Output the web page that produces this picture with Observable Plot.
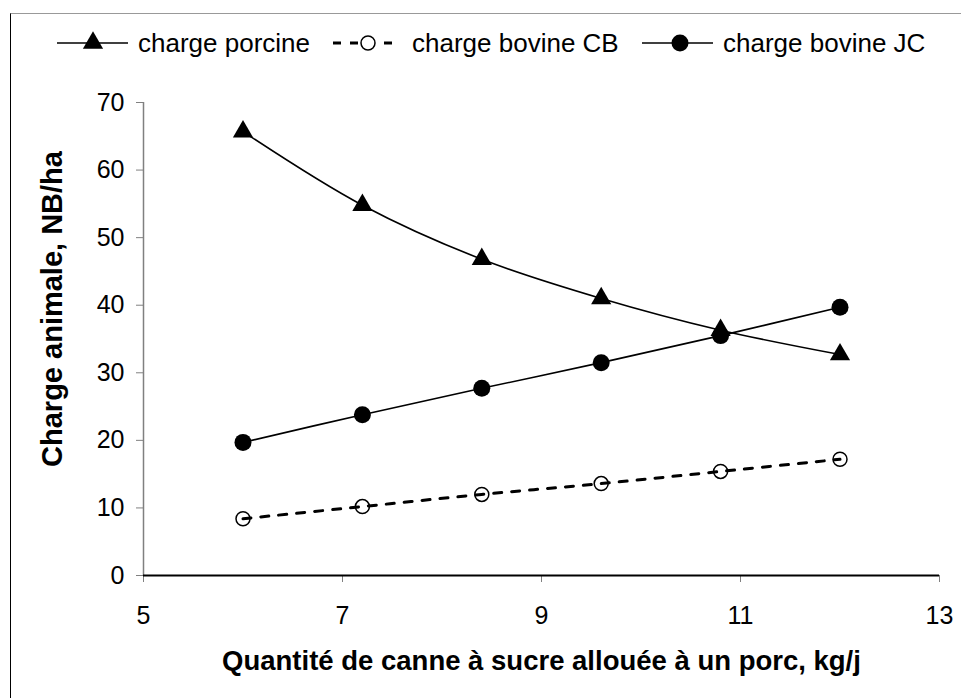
<!DOCTYPE html>
<html><head><meta charset="utf-8">
<script src="https://cdn.jsdelivr.net/npm/d3@7"></script>
<script src="https://cdn.jsdelivr.net/npm/@observablehq/plot@0.6"></script>
<style>
body{margin:0;background:#fff;}
#wrap{position:relative;width:961px;height:698px;overflow:hidden;background:#fff;font-family:"Liberation Sans",Arial,sans-serif;}
#frame{position:absolute;z-index:5;left:10px;top:13px;width:1000px;height:1000px;border-left:1px solid #000;border-top:1px solid #999;pointer-events:none;}
#legend{position:relative;height:80px;}
#legend svg, #chart svg{display:block;}
</style></head><body>
<div id="wrap"><div id="legend"></div><div id="chart"></div><div id="frame"></div></div>
<script>
const quantite = [6, 7.2, 8.4, 9.6, 10.8, 12];
const porcine  = [65.7, 54.8, 46.8, 41.0, 36.3, 32.7];
const bovineCB = [8.4, 10.2, 12.0, 13.6, 15.4, 17.2];
const bovineJC = [19.7, 23.8, 27.7, 31.5, 35.5, 39.7];
const xTicks = [5, 7, 9, 11, 13];
const yTicks = [0, 10, 20, 30, 40, 50, 60, 70];
const seriesNames = ["charge porcine", "charge bovine CB", "charge bovine JC"];
const xTitle = "Quantité de canne à sucre allouée à un porc, kg/j";
const yTitle = "Charge animale, NB/ha";

const rows = (vals, name) => quantite.map((q, i) => ({q, v: vals[i], name}));
const porcRows = rows(porcine, seriesNames[0]);
const cbRows = rows(bovineCB, seriesNames[1]);
const jcRows = rows(bovineJC, seriesNames[2]);

const FONT = "'Liberation Sans', Arial, sans-serif";

// Legend
const leg = d3.select("#legend").append("svg").attr("width", 961).attr("height", 80)
  .style("font-family", FONT);
const ly = 43;
const items = [
  {x0: 57, x1: 128, mx: 93, tx: 138, kind: "tri"},
  {x0: 333, x1: 400, mx: 368, tx: 412, kind: "open"},
  {x0: 642, x1: 713, mx: 680, tx: 723, kind: "dot"}
];
items.forEach((it, i) => {
  const g = leg.append("g");
  const ln = g.append("line").attr("x1", it.x0).attr("x2", it.x1).attr("y1", ly).attr("y2", ly)
    .attr("stroke", "#000");
  if (it.kind === "open") ln.attr("stroke-width", 3).attr("stroke-dasharray", "8,9");
  else ln.attr("stroke-width", 1.6);
  if (it.kind === "tri") {
    g.append("path").attr("d", d3.symbol(d3.symbolTriangle, 7.5 * 7.5 * Math.PI)())
      .attr("transform", `translate(${it.mx},${ly})`).attr("fill", "#000");
  } else if (it.kind === "open") {
    g.append("circle").attr("cx", it.mx).attr("cy", ly).attr("r", 7).attr("fill", "#fff")
      .attr("stroke", "#000").attr("stroke-width", 1.5);
  } else {
    g.append("circle").attr("cx", it.mx).attr("cy", ly).attr("r", 8.5).attr("fill", "#000");
  }
  g.append("text").attr("x", it.tx).attr("y", ly).attr("dy", "0.35em")
    .attr("font-size", 26).attr("fill", "#000").text(seriesNames[i]);
});

const chart = Plot.plot({
  width: 961, height: 618,
  marginLeft: 143, marginRight: 22, marginTop: 22, marginBottom: 123,
  style: {fontFamily: FONT, fontSize: "25px", color: "#000", background: "transparent", overflow: "visible"},
  x: {domain: [5, 13]},
  y: {domain: [0, 70]},
  marks: [
    Plot.axisY({ticks: yTicks, tickSize: 7, tickPadding: 12, stroke: "#808080", label: null, fontSize: 25}),
    Plot.axisX({ticks: xTicks, tickSize: 7, tickPadding: 24, stroke: "#808080", label: null, fontSize: 25}),
    Plot.ruleX([5], {stroke: "#808080", strokeWidth: 1.5}),
    Plot.ruleY([0], {stroke: "#000", strokeWidth: 2}),
    Plot.line(porcRows, {x: "q", y: "v", curve: "catmull-rom", stroke: "#000", strokeWidth: 1.6}),
    Plot.line(jcRows, {x: "q", y: "v", curve: "catmull-rom", stroke: "#000", strokeWidth: 1.6}),
    Plot.dot(cbRows, {x: "q", y: "v", symbol: "circle", r: 7, fill: "#fff", stroke: "#000", strokeWidth: 1.5}),
    Plot.line(cbRows, {x: "q", y: "v", curve: "catmull-rom", stroke: "#000", strokeWidth: 3, strokeDasharray: "8,10"}),
    Plot.dot(porcRows, {x: "q", y: "v", symbol: "triangle", r: 7.5, fill: "#000"}),
    Plot.dot(jcRows, {x: "q", y: "v", symbol: "circle", r: 8.5, fill: "#000"}),
    Plot.text([xTitle], {text: d => d, frameAnchor: "bottom", dy: 94, fontWeight: "bold", fontSize: 27.5}),
    Plot.text([yTitle], {text: d => d, frameAnchor: "left", textAnchor: "middle", dx: -91, dy: -30, rotate: -90, fontWeight: "bold", fontSize: 29})
  ]
});
document.getElementById("chart").appendChild(chart);
</script>
</body></html>
